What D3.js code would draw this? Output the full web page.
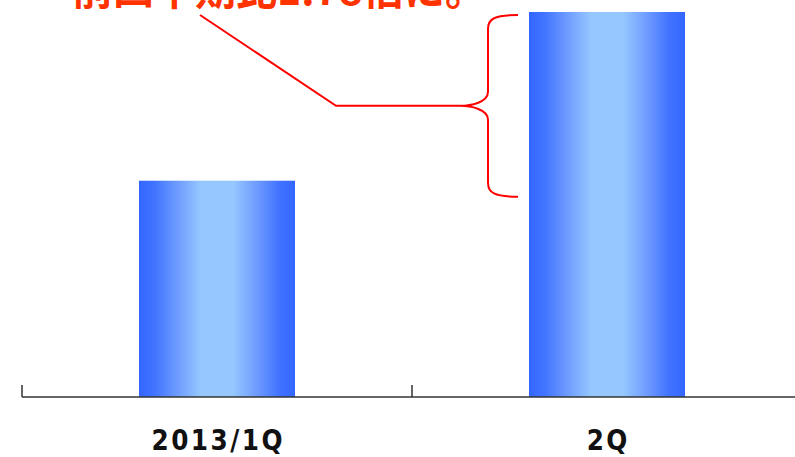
<!DOCTYPE html>
<html><head><meta charset="utf-8">
<script src="https://cdn.jsdelivr.net/npm/d3@7"></script>
<style>html,body{margin:0;padding:0;background:#fff;overflow:hidden}</style>
</head><body>
<svg id="c" width="795" height="457"></svg>
<script>
const categories = ["2013/1Q", "2Q"];
const values = [1.00, 1.78];
const annotation = "前四半期比1.78倍に。";

const svg = d3.select("#c");
const W = 795, H = 457;
const x0 = 22, bandW = 390, baseY = 397, topY = 12;

const x = d3.scaleBand().domain(categories).range([x0, x0 + bandW * categories.length]).paddingInner(0).paddingOuter(0);
const y = d3.scaleLinear().domain([0, d3.max(values)]).range([baseY, topY]);

const defs = svg.append("defs");
const g = defs.append("linearGradient").attr("id", "bg").attr("x1", "0%").attr("x2", "100%").attr("y1", "0%").attr("y2", "0%");
[[0, "#3366ff"], [0.1, "#4174ff"], [0.25, "#6f9dff"], [0.4, "#96c8ff"], [0.6, "#96c8ff"], [0.75, "#709dff"], [0.9, "#4172ff"], [1, "#3366ff"]]
  .forEach(([o, c]) => g.append("stop").attr("offset", o).attr("stop-color", c));

const barW = x.bandwidth() * 0.4;
svg.selectAll("rect.bar").data(categories).enter().append("rect")
  .attr("class", "bar")
  .attr("x", d => x(d) + (x.bandwidth() - barW) / 2)
  .attr("width", barW)
  .attr("y", (d, i) => y(values[i]))
  .attr("height", (d, i) => y(0) - y(values[i]))
  .attr("fill", "url(#bg)");

// axis
const axis = d3.axisBottom(x).tickSize(0).tickFormat("");
const ax = svg.append("g").attr("transform", `translate(0,${baseY})`).call(axis);
ax.select(".domain").remove();
svg.append("line").attr("x1", x0).attr("x2", W).attr("y1", baseY).attr("y2", baseY)
  .attr("stroke", "#333").attr("stroke-width", 1.5);
categories.forEach(c => {
  svg.append("line").attr("x1", x(c)).attr("x2", x(c)).attr("y1", baseY - 12).attr("y2", baseY)
    .attr("stroke", "#333").attr("stroke-width", 1.5);
});
const ls = 2.5;
svg.selectAll("text.lab").data(categories).enter().append("text")
  .attr("class", "lab")
  .attr("x", d => x(d) + x.bandwidth() / 2 + ls / 2)
  .attr("y", 450)
  .attr("text-anchor", "middle")
  .attr("font-family", "'DejaVu Sans Condensed', 'DejaVu Sans', sans-serif")
  .attr("font-weight", "bold")
  .attr("font-size", 27.5)
  .attr("letter-spacing", ls)
  .attr("fill", "#111")
  .text(d => d);

// bracket annotation
const bTop = y(values[1]) + 3, bBot = y(values[0]) + 16, bMid = (bTop + bBot) / 2;
const bx = 518, vx = 488, tx = 460, r = 14;
const p = d3.path();
p.moveTo(bx, bTop);
p.bezierCurveTo(vx + 6, bTop, vx, bTop + 4, vx, bTop + r);
p.lineTo(vx, bMid - r);
p.bezierCurveTo(vx, bMid - 3, tx + 10, bMid, tx, bMid);
p.bezierCurveTo(tx + 10, bMid, vx, bMid + 3, vx, bMid + r);
p.lineTo(vx, bBot - r);
p.bezierCurveTo(vx, bBot - 4, vx + 6, bBot, bx, bBot);
svg.append("path").attr("d", p.toString()).attr("fill", "none").attr("stroke", "#ff0000").attr("stroke-width", 2);

svg.append("polyline").attr("points", `200,15 336,${bMid} ${tx},${bMid}`)
  .attr("fill", "none").attr("stroke", "#ff0000").attr("stroke-width", 2);

svg.append("text").attr("x", 72).attr("y", 5)
  .attr("font-family", "'Noto Sans CJK JP', sans-serif")
  .attr("font-weight", "bold").attr("font-size", 42)
  .attr("fill", "#ff3300")
  .attr("textLength", 414).attr("lengthAdjust", "spacingAndGlyphs")
  .text(annotation);
</script>
</body></html>
